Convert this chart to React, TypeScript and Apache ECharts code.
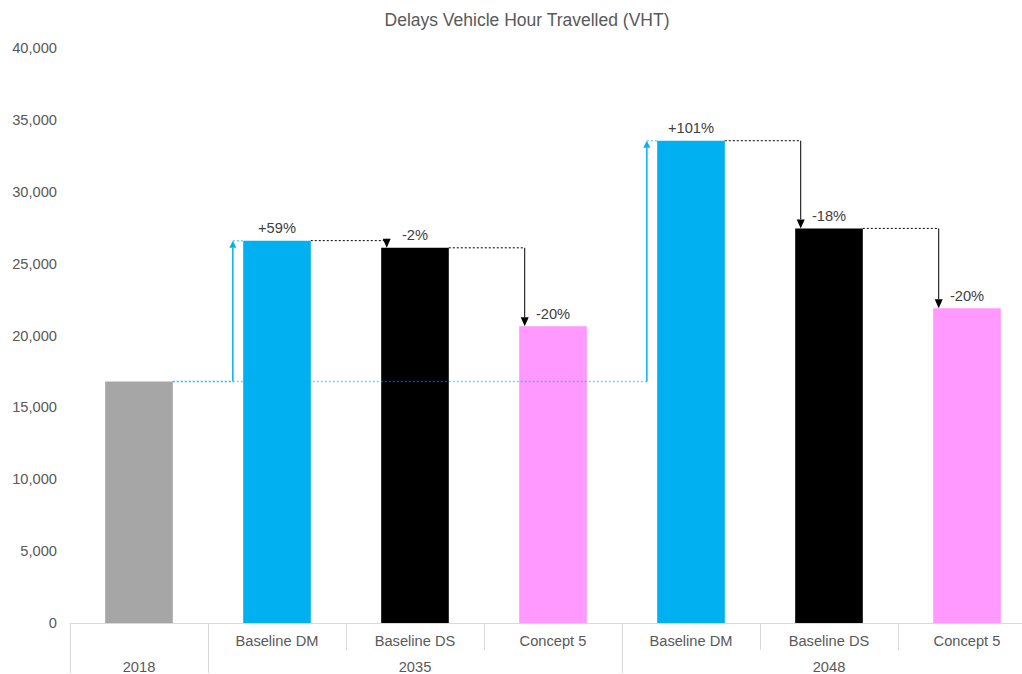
import React, { useEffect, useRef } from "react";
import * as echarts from "echarts";

const subCategories = ["", "Baseline DM", "Baseline DS", "Concept 5", "Baseline DM", "Baseline DS", "Concept 5"];
const groupLabels = ["2018", "", "2035", "", "", "2048", ""];
const groupStartIndices = [0, 1, 4];
const vhtValues = [16800, 26600, 26100, 20650, 33550, 27450, 21900];
const changeLabels = ["", "+59%", "-2%", "-20%", "+101%", "-18%", "-20%"];
const barColors = ["#a6a6a6", "#00b0f0", "#000000", "#ff99ff", "#00b0f0", "#000000", "#ff99ff"];
// connectors: [fromIndex, toIndex, kind] kind 0 = from base year (cyan, up), 1 = step (black, down)
const connectors: [number, number, number][] = [
  [0, 1, 0],
  [1, 2, 1],
  [2, 3, 1],
  [0, 4, 0],
  [4, 5, 1],
  [5, 6, 1],
];
const yTicks = { min: 0, max: 40000, interval: 5000 };

const FONT = "'Liberation Sans', Arial, sans-serif";

export default function App() {
  const ref = useRef<HTMLDivElement>(null);
  useEffect(() => {
    if (!ref.current) return;
    const chart = echarts.init(ref.current, undefined, { renderer: "svg" });
    const connectorData = connectors.map(([f, t, k]) => [f, vhtValues[f], t, vhtValues[t], k]);
    chart.setOption({
      animation: false,
      backgroundColor: "#ffffff",
      title: {
        text: "Delays Vehicle Hour Travelled (VHT)",
        left: 527,
        top: 11,
        padding: 0,
        textAlign: "center",
        textStyle: { fontFamily: FONT, fontSize: 17.5, fontWeight: "normal", color: "#595959" },
      },
      grid: { left: 70, right: 0, top: 48, bottom: 50, containLabel: false },
      xAxis: [
        {
          type: "category",
          data: subCategories,
          position: "bottom",
          axisLine: { show: true, lineStyle: { color: "#d9d9d9", width: 1 } },
          axisTick: { show: true, length: 27, lineStyle: { color: "#d9d9d9" } },
          axisLabel: { interval: 0, margin: 10, color: "#595959", fontFamily: FONT, fontSize: 14.67 },
        },
        {
          type: "category",
          data: groupLabels,
          position: "bottom",
          offset: 0,
          axisLine: { show: false },
          axisTick: {
            show: true,
            length: 50,
            interval: (index: number) => groupStartIndices.includes(index),
            lineStyle: { color: "#d9d9d9" },
          },
          axisLabel: { interval: 0, margin: 36, color: "#595959", fontFamily: FONT, fontSize: 14.67 },
        },
      ],
      yAxis: {
        type: "value",
        min: yTicks.min,
        max: yTicks.max,
        interval: yTicks.interval,
        axisLine: { show: false },
        axisTick: { show: false },
        splitLine: { show: false },
        axisLabel: {
          margin: 13,
          color: "#595959",
          fontFamily: FONT,
          fontSize: 14.67,
          formatter: (v: number) => v.toLocaleString("en-US"),
        },
      },
      series: [
        {
          type: "bar",
          xAxisIndex: 0,
          barWidth: "49%",
          data: vhtValues.map((v, i) => ({ value: v, itemStyle: { color: barColors[i] } })),
          label: {
            show: true,
            position: "top",
            distance: 5,
            color: "#404040",
            fontFamily: FONT,
            fontSize: 14.67,
            formatter: (p: any) => changeLabels[p.dataIndex],
          },
          z: 2,
        },
        {
          type: "custom",
          xAxisIndex: 0,
          z: 5,
          clip: false,
          encode: { x: [0, 2], y: [1, 3] },
          data: connectorData,
          renderItem: (params: any, api: any) => {
            const fromIdx = api.value(0);
            const fromVal = api.value(1);
            const toIdx = api.value(2);
            const toVal = api.value(3);
            const kind = api.value(4);
            const p0 = api.coord([fromIdx, fromVal]);
            const p1 = api.coord([toIdx, toVal]);
            const band = api.size([1, 0])[0];
            const hw = band * 0.245;
            const children: any[] = [];
            if (kind === 0) {
              const color = "#00b0f0";
              const ax = p1[0] - hw - band * 0.075;
              const ah = 7;
              children.push({
                type: "line",
                shape: { x1: p0[0] + hw, y1: p0[1], x2: ax, y2: p0[1] },
                style: { stroke: color, opacity: 0.55, lineWidth: 1.5, lineDash: [2, 2] },
              });
              children.push({
                type: "line",
                shape: { x1: ax, y1: p1[1], x2: p1[0] - hw, y2: p1[1] },
                style: { stroke: color, opacity: 0.55, lineWidth: 1.5, lineDash: [2, 2] },
              });
              children.push({
                type: "line",
                shape: { x1: ax, y1: p0[1], x2: ax, y2: p1[1] + ah },
                style: { stroke: color, lineWidth: 1.5 },
              });
              children.push({
                type: "polygon",
                shape: { points: [[ax, p1[1]], [ax - 3.5, p1[1] + ah], [ax + 3.5, p1[1] + ah]] },
                style: { fill: color },
              });
            } else {
              const color = "#000000";
              const ax = p1[0] - hw + band * 0.04;
              const ah = 9;
              children.push({
                type: "line",
                shape: { x1: p0[0] + hw, y1: p0[1], x2: ax, y2: p0[1] },
                style: { stroke: color, lineWidth: 1, lineDash: [2, 2] },
              });
              children.push({
                type: "line",
                shape: { x1: ax, y1: p0[1], x2: ax, y2: p1[1] - ah },
                style: { stroke: color, lineWidth: 1 },
              });
              children.push({
                type: "polygon",
                shape: { points: [[ax, p1[1]], [ax - 4, p1[1] - ah], [ax + 4, p1[1] - ah]] },
                style: { fill: color },
              });
            }
            return { type: "group", children };
          },
        },
      ],
    });
    return () => chart.dispose();
  }, []);
  return (
    <div
      ref={ref}
      style={{ position: "fixed", left: 0, top: 0, width: 1036, height: 674, background: "#fff" }}
    />
  );
}
